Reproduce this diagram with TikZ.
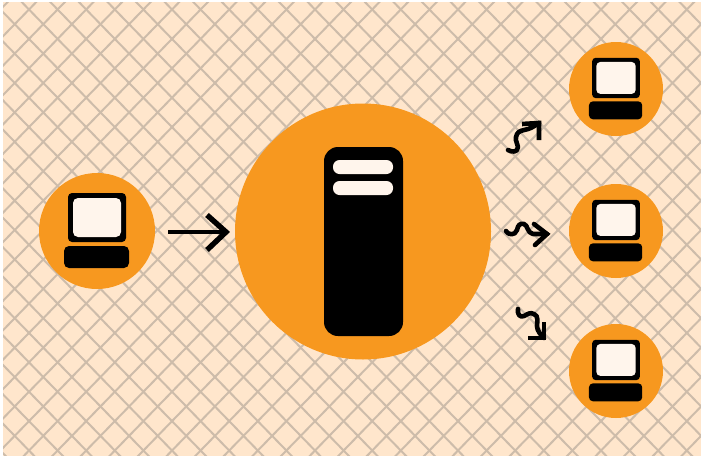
\documentclass[tikz,border=0pt]{standalone}
\definecolor{bgpeach}{HTML}{FFE6CC}
\definecolor{hatch}{HTML}{CDBCAA}
\definecolor{disc}{HTML}{F7981F}
\definecolor{screen}{HTML}{FFF5EC}
\tikzset{
  x=1pt,y=-1pt,
  discnode/.style={circle,fill=disc,inner sep=0pt,minimum size=#1},
  hatchline/.style={draw=hatch,line width=2pt},
  flowline/.style={draw=black,line width=4.6pt,line cap=round,line join=round},
  headline/.style={draw=black,line width=4.6pt,line cap=butt,line join=miter},
  bigflow/.style={draw=black,line width=4.4pt,line cap=butt,line join=miter},
  pics/computer/.style={code={
    \fill[black,rounded corners=4pt*#1] (-29*#1,-38*#1) rectangle (29*#1,11*#1);
    \fill[screen,rounded corners=5pt*#1] (-24*#1,-33*#1) rectangle (24*#1,6*#1);
    \fill[black,rounded corners=5pt*#1] (-33*#1,15*#1) rectangle (32*#1,37*#1);
  }}
}
\begin{document}
\begin{tikzpicture}
\useasboundingbox (0,0) rectangle (701,458);
\fill[white] (0,0) rectangle (701,458);
\begin{scope}
\clip (3,2) rectangle (701,455.5);
\fill[bgpeach] (3,2) rectangle (701,456);
\foreach \k in {-2,...,42} {
  \pgfmathsetmacro{\lineA}{38.24+28.6*\k}
  \draw[hatchline] (\lineA,0) -- ({\lineA-445.5},458);
}
\foreach \k in {-17,...,24} {
  \pgfmathsetmacro{\lineB}{19.76+28.6*\k}
  \draw[hatchline] (\lineB,0) -- ({\lineB+445.5},458);
}
\end{scope}
\node[discnode=116pt] (client) at (97,231) {};
\node[discnode=256pt] (server) at (363,231.5) {};
\node[discnode=94pt] (peerA) at (616,89) {};
\node[discnode=94pt] (peerB) at (616,231) {};
\node[discnode=94pt] (peerC) at (616,371) {};
\pic at (client) {computer=1};
\pic at (peerA) {computer=0.82};
\pic at (peerB) {computer=0.82};
\pic at (peerC) {computer=0.82};
\fill[black,rounded corners=14pt] (324,147) rectangle (403,336);
\fill[screen,rounded corners=6.5pt] (333,160) rectangle (393,174);
\fill[screen,rounded corners=6.5pt] (333,181) rectangle (393,195);
\coordinate (mainTail) at (168,232);
\coordinate (mainTip) at (226,232);
\draw[bigflow] (mainTail) -- (mainTip);
\draw[bigflow,line width=5.4pt] (207,215) -- (mainTip) -- (207,250);
\coordinate (waveAs) at (508,150);
\coordinate (waveAt) at (539,123);
\draw[flowline] (waveAs) .. controls (511,152) and (518,153) .. (518,147)
  .. controls (518,143) and (515,142) .. (516,137) .. controls (517,132) and (520,131) .. (524,130)
  .. controls (530,129) and (533,127) .. (waveAt);
\draw[headline] (522,124) -- (waveAt) -- (539,140);
\coordinate (waveBs) at (506,231);
\coordinate (waveBt) at (547,234);
\draw[flowline] (waveBs) .. controls (508,235) and (515,236) .. (517,230)
  .. controls (518,225) and (520,223) .. (524,224) .. controls (528,225) and (527,233) .. (533,234)
  -- (waveBt);
\draw[headline,line cap=round] (534,224) -- (waveBt) -- (535,245);
\coordinate (waveCs) at (518,309);
\coordinate (waveCt) at (544,338);
\draw[flowline] (waveCs) .. controls (517,314) and (520,318) .. (524,316)
  .. controls (528,314) and (530,312) .. (534,314) .. controls (539,316) and (537,322) .. (537,326)
  .. controls (537,331) and (541,335) .. (waveCt);
\draw[headline] (544,322) -- (waveCt) -- (528,338);
\end{tikzpicture}
\end{document}
